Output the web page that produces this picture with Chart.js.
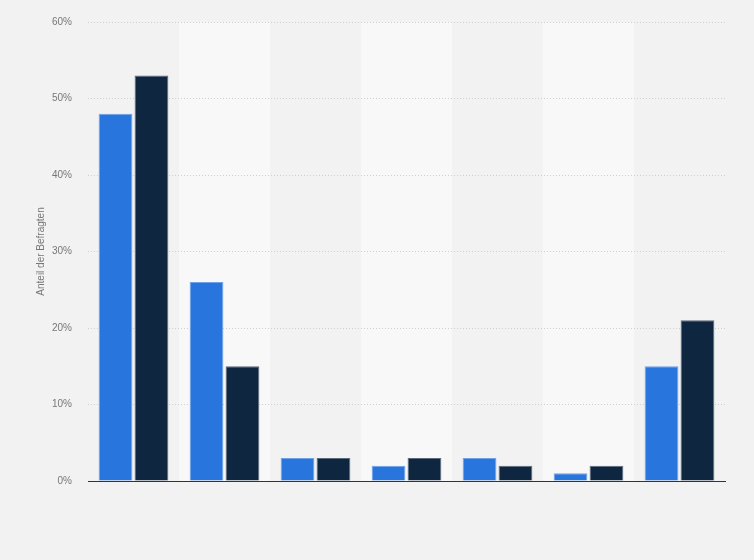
<!DOCTYPE html>
<html>
<head>
<meta charset="utf-8">
<script src="https://cdn.jsdelivr.net/npm/chart.js@4/dist/chart.umd.min.js"></script>
<style>
  html, body { margin: 0; padding: 0; background: #f2f2f2; }
  #wrap { width: 754px; height: 560px; position: relative; }
</style>
</head>
<body>
<div id="wrap"><canvas id="chart"></canvas></div>
<script>
const categories = ["1", "2", "3", "4", "5", "6", "7"]
const seriesA = [48, 26, 3, 2, 3, 1, 15]
const seriesB = [53, 15, 3, 3, 2, 2, 21]
const yTicks = [0, 10, 20, 30, 40, 50, 60]

// lighter background band behind every second category
const bandPlugin = {
  id: "bands",
  beforeDraw(chart) {
    const { ctx, chartArea, scales } = chart
    const x = scales.x
    const step = x.getPixelForValue(1) - x.getPixelForValue(0)
    ctx.save()
    ctx.fillStyle = "#f8f8f8"
    categories.forEach((c, i) => {
      if (i % 2 === 1) {
        const cx = x.getPixelForValue(i)
        ctx.fillRect(cx - step / 2, chartArea.top, step, chartArea.bottom - chartArea.top)
      }
    })
    ctx.restore()
  },
}

const font = { family: "'Liberation Sans', Arial, sans-serif", size: 10 }

new Chart(document.getElementById("chart"), {
  type: "bar",
  data: {
    labels: categories,
    datasets: [
      {
        label: "A",
        data: seriesA,
        backgroundColor: "#2876dd",
        borderColor: "#6fa3e8",
        borderWidth: { top: 1, left: 1, right: 1, bottom: 0 },
        categoryPercentage: 0.79,
        barPercentage: 0.94,
      },
      {
        label: "B",
        data: seriesB,
        backgroundColor: "#0f2640",
        borderColor: "#5b6b7c",
        borderWidth: { top: 1, left: 1, right: 1, bottom: 0 },
        categoryPercentage: 0.79,
        barPercentage: 0.94,
      },
    ],
  },
  options: {
    responsive: true,
    maintainAspectRatio: false,
    animation: false,
    layout: { padding: { top: 10, right: 29, bottom: 79, left: 0 } },
    plugins: {
      legend: { display: false },
      tooltip: { enabled: false },
    },
    scales: {
      x: {
        grid: { display: false, drawTicks: false },
        border: { display: true, color: "#333", width: 1 },
        ticks: { display: false },
      },
      y: {
        min: 0,
        max: 60,
        afterFit: (s) => { s.width = 88 },
        afterBuildTicks: (s) => { s.ticks = yTicks.map((v) => ({ value: v })) },
        border: { display: false, dash: [1, 2] },
        grid: { color: "#cfcfcf", drawTicks: false },
        ticks: {
          padding: 16,
          color: "#777",
          font,
          callback: (v) => v + "%",
        },
        title: {
          display: true,
          text: "Anteil der Befragten",
          color: "#777",
          font,
          padding: { top: 35, bottom: 0 },
        },
      },
    },
  },
  plugins: [bandPlugin],
})
</script>
</body>
</html>
